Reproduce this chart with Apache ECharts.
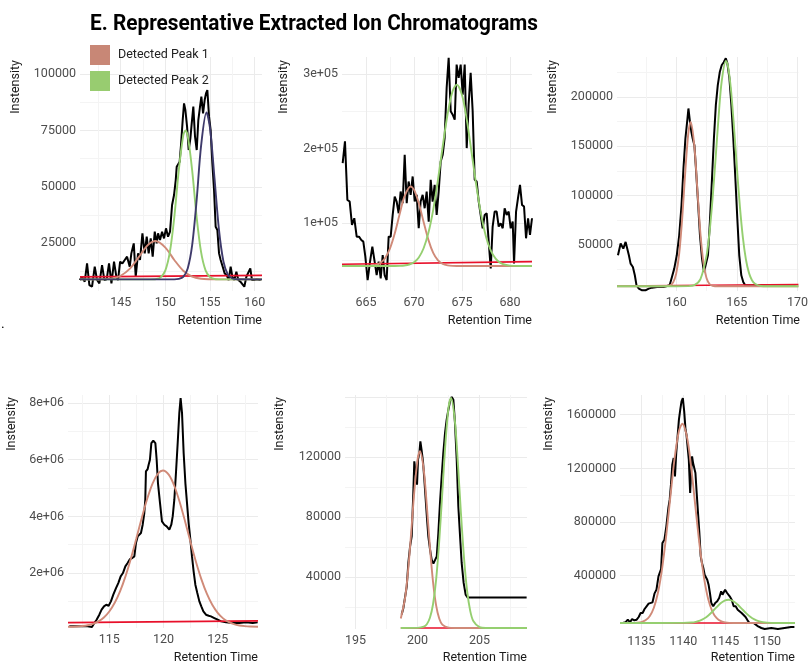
<!DOCTYPE html>
<html>
<head>
<meta charset="utf-8">
<script src="https://cdn.jsdelivr.net/npm/echarts@6/dist/echarts.min.js"></script>
<style>html,body{margin:0;padding:0;background:#fff}#c{width:811px;height:666px}</style>
</head>
<body>
<div id="c"></div>
<script>
// ---------- Panel 1 ----------
const p1RT = [140.41,140.67,140.97,141.23,141.49,141.79,142.09,142.35,142.61,142.91,143.17,143.43,143.69,143.96,144.25,144.51,144.70,144.93,145.19,145.45,145.71,146.01,146.19,146.46,146.68,146.94,147.16,147.43,147.69,147.91,148.13,148.36,148.58,148.81,149.03,149.18,149.40,149.63,149.85,150.07,150.30,150.52,150.75,150.97,151.16,151.27,151.42,151.60,151.75,151.94,152.09,152.24,152.43,152.61,152.80,152.95,153.13,153.32,153.51,153.69,153.88,154.03,154.22,154.40,154.55,154.70,154.89,155.07,155.26,155.45,155.63,155.82,156.01,156.19,156.42,156.64,156.87,157.09,157.31,157.50,157.72,157.95,158.17,158.40,158.62,158.84,159.07,159.29,159.51,159.70,159.93,160.19,160.37,160.67];
const p1Int = [8720,10200,7980,16110,6500,5760,14630,8720,7240,15370,8720,9020,16110,7240,16850,10200,8720,16850,16110,17590,19070,14630,20540,24980,10200,20540,17590,29410,20540,27930,20540,27200,19070,30150,24980,29410,26460,30150,27200,31630,27930,30150,41980,46410,53060,58970,58970,61190,68580,79660,87050,84100,76710,66360,71540,78190,85580,72270,66360,79660,85580,90010,82620,88530,91490,92970,81140,75230,60450,48630,32370,30890,20540,17590,14630,11680,10940,8720,14630,10200,8720,12420,8720,7980,8720,5760,10200,9460,13890,8720,8720,9020,9020,8720];
const p1Peak1X = [140.44,141,142,143,144,145,146,147,148,148.9,150,151,152,153,154,155,156,158,160.82];
const p1Peak1Y = [9000,9000,9010,9080,9420,10620,13640,18740,24080,26000,23110,17600,12860,10260,9310,9060,9000,9000,9000];
const p1Peak2X = [140.44,148,149,149.5,150,150.5,151,151.5,152,152.25,152.5,153,153.5,154,154.5,155,155.5,156,157,160.82];
const p1Peak2Y = [9000,9000,9190,10000,13000,21080,36650,57380,72750,75000,72750,57380,36650,21080,13000,10000,9190,9030,9000,9000];
const p1Peak3X = [140.44,151,151.5,152,152.5,153,153.5,154,154.6,155,155.5,156,156.5,157,157.5,158,160.82];
const p1Peak3Y = [9000,9000,9200,10110,13880,24240,44080,68270,83000,76040,53900,31050,16990,11110,9410,9070,9000];
const p1BaseX = [140.44,160.82];
const p1BaseY = [10100,10800];
const p1XTicks = [145,150,155,160];
const p1XGrid = [142.5,145,147.5,150,152.5,155,157.5,160];
const p1YTicks = [25000,50000,75000,100000];
const p1YLabels = ['25000','50000','75000','100000'];
const p1YGrid = [12500,25000,37500,50000,62500,75000,87500,100000];

// ---------- Panel 2 ----------
const p2RT = [662.57,662.81,663.06,663.30,663.54,663.78,664.03,664.27,664.51,664.72,664.93,665.17,665.42,665.66,665.90,666.11,666.32,666.53,666.74,666.94,667.15,667.36,667.57,667.78,667.99,668.19,668.40,668.61,668.82,669.03,669.24,669.44,669.65,669.86,670.07,670.28,670.49,670.69,670.90,671.11,671.32,671.53,671.74,671.94,672.15,672.36,672.57,672.78,672.99,673.19,673.40,673.61,673.82,674.03,674.24,674.44,674.65,674.86,675.07,675.28,675.49,675.69,675.90,676.11,676.32,676.53,676.74,676.94,677.15,677.36,677.57,677.78,677.99,678.19,678.40,678.61,678.82,679.03,679.24,679.44,679.65,679.86,680.07,680.28,680.42,680.63,680.83,681.04,681.25,681.46,681.67,681.88,682.08,682.29];
const p2Int = [180700,209850,131380,129140,97750,106720,82060,82060,77570,75330,55150,23770,48430,68610,48430,30490,48430,26010,57400,30490,23770,82060,82060,111200,135870,129140,113450,142590,126900,191920,126900,156040,138110,162770,129140,138110,93270,129140,138110,120170,142590,102240,158290,129140,151560,111200,142590,182950,191920,214340,281600,321950,250210,245720,239000,312990,295050,312990,272630,312990,200880,259180,301780,250210,158290,156040,129140,129140,93270,111200,113450,75330,39460,95510,115690,115690,95510,99990,93270,120170,111200,115690,93270,102240,46190,115690,133620,151560,124650,122410,79820,106720,84300,106720];
const p2Peak1X = [662.5,665,665.5,666,666.5,667,667.5,668,668.5,669,669.65,670,670.5,671,671.5,672,672.5,673,673.5,674,675,682.29];
const p2Peak1Y = [42600,42700,43000,44010,46830,53480,66400,86660,111960,135640,149300,145140,126900,101700,77700,60200,50200,45400,43480,42850,42600,42600];
const p2Peak2X = [662.5,668,668.5,669,669.5,670,670.5,671,671.5,672,672.5,673,673.5,674,674.45,675,675.5,676,676.5,677,677.5,678,678.5,679,679.5,680,681,682.29];
const p2Peak2Y = [42600,42670,42840,43330,44640,47690,54140,66450,87140,118050,158450,204000,246600,276500,286000,272100,238800,194900,149700,110900,82030,63290,52530,46880,44280,43200,42700,42600];
const p2BaseX = [662.5,682.29];
const p2BaseY = [45000,48500];
const p2XTicks = [665,670,675,680];
const p2XGrid = [665,667.5,670,672.5,675,677.5,680];
const p2YTicks = [100000,200000,300000];
const p2YLabels = ['1e+05','2e+05','3e+05'];
const p2YGrid = [50000,100000,150000,200000,250000,300000];

// ---------- Panel 3 ----------
const p3RT = [155.20,155.42,155.64,155.83,155.97,156.10,156.24,156.43,156.59,156.73,156.92,157.19,157.47,157.74,158.01,158.42,158.96,159.24,159.46,159.65,159.84,160.05,160.25,160.44,160.60,160.76,160.93,161.01,161.12,161.25,161.36,161.50,161.63,161.80,161.96,162.13,162.29,162.45,162.62,162.78,162.94,163.11,163.27,163.43,163.60,163.76,163.92,164.09,164.22,164.39,164.55,164.71,164.88,165.04,165.20,165.37,165.53,165.69,165.91,166.32,167.14,168.50,169.86];
const p3Int = [39150,51020,45930,52710,54410,39150,30680,27290,18810,8640,5250,3560,3560,5250,6270,6950,6950,7970,8640,17120,25590,39150,59490,90000,127300,157800,178100,188300,176400,164600,157800,151000,127300,93390,59490,35760,22200,22200,39150,73050,113700,157800,191700,212100,225700,232500,235200,239300,234200,218900,191700,157800,117100,76440,39150,18810,12030,8640,8640,8640,8640,8640,8640];
const p3Peak1X = [155.12,158.5,159,159.5,159.75,160,160.25,160.5,160.75,161,161.2,161.5,161.75,162,162.25,162.5,162.75,163,163.5,170.08];
const p3Peak1Y = [7630,7630,7660,8610,11590,20500,41030,77430,124000,163100,174600,149900,105000,61040,31180,15950,9970,8150,7650,7630];
const p3Peak2X = [155.12,160,161,161.5,162,162.5,162.75,163,163.25,163.5,163.75,164.1,164.25,164.5,164.75,165,165.25,165.5,165.75,166,166.25,166.5,167,168,170.08];
const p3Peak2Y = [7630,7630,7760,8800,14910,38530,62560,96670,137600,180400,215700,236500,232600,209500,172200,129200,89100,57070,34870,21280,13810,10170,7950,7630,7630];
const p3BaseX = [155.12,170.08];
const p3BaseY = [8000,9500];
const p3XTicks = [160,165,170];
const p3XGrid = [157.5,160,162.5,165,167.5,170];
const p3YTicks = [50000,100000,150000,200000];
const p3YLabels = ['50000','100000','150000','200000'];
const p3YGrid = [25000,50000,75000,100000,125000,150000,175000,200000,225000];

// ---------- Panel 4 ----------
const p4RT = [111.31,111.92,112.54,113.0,113.40,113.62,113.83,114.08,114.29,114.51,114.72,114.94,115.15,115.37,115.62,115.83,116.05,116.26,116.48,116.69,116.91,117.12,117.31,117.46,117.62,117.77,117.92,118.08,118.23,118.32,118.38,118.54,118.63,118.75,118.88,119.06,119.25,119.37,119.49,119.68,119.86,120.08,120.29,120.54,120.72,120.85,121.0,121.15,121.31,121.46,121.58,121.71,121.86,122.02,122.17,122.32,122.48,122.63,122.78,122.94,123.12,123.31,123.49,123.68,123.92,124.17,124.38,124.69,125.0,125.31,125.77,126.38,126.99,127.62,128.23,128.69];
const p4Int = [117650,117650,117650,117650,94120,235300,352950,529400,705900,823550,882400,847100,1000000,1235300,1470600,1647100,1882400,2000000,2235400,2353000,2494200,2529500,2588300,3058900,3294200,3353000,3411900,3706000,4117800,4588400,5588400,5670700,5823700,6000200,6588400,6670800,6588400,6000200,5176600,4470700,3823600,3706000,3647200,3529500,3706000,4000100,4588400,5529600,6588400,7647300,8176700,7647300,6235500,5176600,4470700,3764800,3176600,2588300,2058900,1588300,1294200,1000000,823550,647100,529400,494100,470600,411800,352950,294100,258800,235300,235300,258800,235300,258800];
const p4Peak1X = [111.19,112,112.5,113,113.5,114,114.5,115,115.5,116,116.5,117,117.5,118,118.5,119,119.5,119.95,120.5,121,121.5,122,122.5,123,123.5,124,124.5,125,125.5,126,126.5,127,127.5,128,128.72];
const p4Peak1Y = [104400,114000,129000,157300,208300,293500,432900,643000,949400,1361900,1892200,2523600,3230600,3954400,4624100,5168100,5514700,5618800,5463700,5072800,4497400,3810000,3084300,2391000,1778200,1271500,880700,595900,400500,273800,195300,150100,125200,112100,103900];
const p4BaseX = [111.19,128.72];
const p4BaseY = [250000,310000];
const p4XTicks = [115,120,125];
const p4XGrid = [112.5,115,117.5,120,122.5,125,127.5];
const p4YTicks = [2000000,4000000,6000000,8000000];
const p4YLabels = ['2e+06','4e+06','6e+06','8e+06'];
const p4YGrid = [1000000,2000000,3000000,4000000,5000000,6000000,7000000,8000000];

// ---------- Panel 5 ----------
const p5RT = [198.72,198.86,198.99,199.13,199.26,199.40,199.53,199.66,199.74,199.85,199.96,200.04,200.15,200.23,200.34,200.44,200.55,200.66,200.77,200.87,201.01,201.14,201.28,201.41,201.55,201.68,201.81,201.95,202.08,202.22,202.35,202.49,202.62,202.76,202.89,203.02,203.16,203.29,203.43,203.56,203.72,203.88,204.05,204.37,205.44,206.79,208.13,208.80];
const p5Int = [14890,19330,20440,33770,49330,60440,67100,96000,117100,109300,101500,118200,122700,130400,123800,117100,104900,91550,78210,67100,58220,51550,48880,49330,53770,69330,89320,107100,122700,136000,144900,151500,157100,160000,158200,142700,118200,87100,67100,49330,36000,28220,26220,26220,26220,26220,26220,26220];
const p5Peak1X = [198.65,199.0,199.25,199.5,199.75,200.0,200.2,200.5,200.75,201.0,201.25,201.5,201.75,202.0,202.5,203.0,208.83];
const p5Peak1Y = [12300,26260,45230,70790,98000,118100,123800,111500,87400,59950,36660,20990,12250,8260,6190,6000,6000];
const p5Peak2X = [198.65,200.0,200.5,200.75,201.0,201.25,201.5,201.75,202.0,202.25,202.5,202.7,203.0,203.25,203.5,203.75,204.0,204.25,204.5,205.0,205.5,208.83];
const p5Peak2Y = [6000,6060,6810,8510,12740,21790,38200,63800,96300,129100,152900,159300,145100,116500,82700,52600,30700,17390,10610,6500,6000,6000];
const p5BaseX = [198.65,208.83];
const p5BaseY = [6000,6000];
const p5XTicks = [195,200,205];
const p5XGrid = [195,197.5,200,202.5,205,207.5];
const p5YTicks = [40000,80000,120000];
const p5YLabels = ['40000','80000','120000'];
const p5YGrid = [20000,40000,60000,80000,100000,120000,140000,160000];

// ---------- Panel 6 ----------
const p6RT = [1132.80,1133.11,1133.39,1133.66,1133.90,1134.17,1134.45,1134.69,1134.92,1135.16,1135.39,1135.63,1135.87,1136.10,1136.34,1136.57,1136.81,1137.05,1137.20,1137.36,1137.52,1137.76,1137.99,1138.23,1138.39,1138.54,1138.70,1138.86,1139.02,1139.17,1139.33,1139.49,1139.65,1139.80,1139.96,1140.12,1140.28,1140.39,1140.51,1140.67,1140.83,1140.94,1141.06,1141.18,1141.30,1141.46,1141.61,1141.77,1141.93,1142.09,1142.24,1142.40,1142.56,1142.72,1142.87,1143.03,1143.19,1143.35,1143.58,1143.82,1144.06,1144.29,1144.53,1144.69,1144.84,1145.0,1145.24,1145.39,1145.55,1145.79,1146.02,1146.26,1146.50,1146.73,1146.97,1147.20,1147.44,1147.68,1147.91,1148.15,1148.39,1148.62,1148.94,1149.33,1149.72,1150.51,1151.30,1152.09,1152.87,1153.27];
const p6Int = [47700,52660,72530,52660,77500,67560,72530,92400,122200,122200,152000,171900,191800,196700,201700,266300,296100,395500,400400,450100,643900,668700,768100,904700,966800,1078600,1227600,1277300,1140700,1314500,1438700,1562900,1637400,1699500,1724300,1624900,1488300,1451100,1463500,1264800,1016400,1165400,1289600,1239900,1252300,1165400,1016400,867400,718300,544500,494800,457500,407900,407900,370600,333400,271300,196700,171900,196700,209100,233900,283600,258800,271300,296100,271300,283600,246300,221500,171900,171900,147100,134700,122200,109800,92400,67560,47700,47700,47700,42730,22850,10430,2980,10430,2980,10430,17880,17880];
const p6Peak1X = [1132.46,1134,1134.5,1135,1135.5,1136,1136.5,1137,1137.5,1138,1138.5,1139,1139.5,1139.9,1140.5,1141,1141.5,1142,1142.5,1143,1143.5,1144,1144.5,1145,1146,1153.34];
const p6Peak1Y = [47700,48300,49900,54800,67900,98200,161400,276400,460500,713000,1008000,1288000,1481000,1533000,1418000,1182000,888000,605000,379000,222000,131000,83300,61200,52300,48000,47700];
const p6Peak2X = [1132.46,1140,1141,1141.5,1142,1142.5,1143,1143.5,1144,1144.5,1145,1145.4,1146,1146.5,1147,1147.5,1148,1148.5,1149,1149.5,1150,1151,1153.34];
const p6Peak2Y = [47700,48300,51700,56600,65800,81400,104200,133600,166200,196100,216100,221500,209700,185000,153200,121200,94100,74300,61500,54200,50500,48100,47700];
const p6BaseX = [1132.46,1153.34];
const p6BaseY = [47700,47700];
const p6XTicks = [1135,1140,1145,1150];
const p6XGrid = [1135,1137.5,1140,1142.5,1145,1147.5,1150,1152.5];
const p6YTicks = [400000,800000,1200000,1600000];
const p6YLabels = ['400000','800000','1200000','1600000'];
const p6YGrid = [200000,400000,600000,800000,1000000,1200000,1400000,1600000];

const titleText = 'E. Representative Extracted Ion Chromatograms';
const peakNames = ['Detected Peak 1','Detected Peak 2'];
const xTitle = 'Retention Time';
const yTitle = 'Instensity';

// ---------- layout / styling ----------
const FONT = 'Roboto, "Liberation Sans", sans-serif';
const COL = {raw:'#000000', p1:'#D08A78', p2:'#95CF70', p3:'#3E3A6B', base:'#E8102A', major:'#EBEBEB', minor:'#F4F4F4', tick:'#4D4D4D'};

const panels = [
  {grid:{left:80,top:57,width:182,height:234}, xr:[140.44,160.82], yr:[3860,107600],
   raw:[p1RT,p1Int], peaks:[[p1Peak1X,p1Peak1Y],[p1Peak2X,p1Peak2Y],[p1Peak3X,p1Peak3Y]], base:[p1BaseX,p1BaseY],
   xt:p1XTicks, xg:p1XGrid, yt:p1YTicks, yl:p1YLabels, yg:p1YGrid, xT:[262,321], yT:[16,60]},
  {grid:{left:342,top:57,width:190,height:234}, xr:[662.5,682.29], yr:[9100,323100],
   raw:[p2RT,p2Int], peaks:[[p2Peak1X,p2Peak1Y],[p2Peak2X,p2Peak2Y]], base:[p2BaseX,p2BaseY],
   xt:p2XTicks, xg:p2XGrid, yt:p2YTicks, yl:p2YLabels, yg:p2YGrid, xT:[532,321], yT:[284,60]},
  {grid:{left:617,top:57,width:183,height:234}, xr:[155.12,170.08], yr:[2850,240600],
   raw:[p3RT,p3Int], peaks:[[p3Peak1X,p3Peak1Y],[p3Peak2X,p3Peak2Y]], base:[p3BaseX,p3BaseY],
   xt:p3XTicks, xg:p3XGrid, yt:p3YTicks, yl:p3YLabels, yg:p3YGrid, xT:[800,321], yT:[553,60]},
  {grid:{left:68,top:395,width:190,height:233}, xr:[111.19,128.72], yr:[60000,8285000],
   raw:[p4RT,p4Int], peaks:[[p4Peak1X,p4Peak1Y]], base:[p4BaseX,p4BaseY],
   xt:p4XTicks, xg:p4XGrid, yt:p4YTicks, yl:p4YLabels, yg:p4YGrid, xT:[258,658], yT:[12,397]},
  {grid:{left:345,top:395,width:182,height:234}, xr:[194.15,208.83], yr:[5300,161300],
   raw:[p5RT,p5Int], peaks:[[p5Peak1X,p5Peak1Y],[p5Peak2X,p5Peak2Y]], base:[p5BaseX,p5BaseY],
   xt:p5XTicks, xg:p5XGrid, yt:p5YTicks, yl:p5YLabels, yg:p5YGrid, xT:[527,658], yT:[280,397]},
  {grid:{left:620,top:395,width:175,height:235}, xr:[1132.46,1153.34], yr:[-4500,1747000],
   raw:[p6RT,p6Int], peaks:[[p6Peak1X,p6Peak1Y],[p6Peak2X,p6Peak2Y]], base:[p6BaseX,p6BaseY],
   xt:p6XTicks, xg:p6XGrid, yt:p6YTicks, yl:p6YLabels, yg:p6YGrid, xT:[795,658], yT:[549,397]}
];

function zip(xs, ys){ return xs.map((x,i)=>[x, ys[i]]); }
// alternate major/minor gridline colours depending on whether the first line is a labelled (major) one
function gridColors(gridVals, labelVals){
  return labelVals.indexOf(gridVals[0]) >= 0 ? [COL.major, COL.minor] : [COL.minor, COL.major];
}

const grids=[], xAxes=[], yAxes=[], series=[], graphics=[];
const peakColors=[COL.p1, COL.p2, COL.p3];
const peakSeriesNames=[peakNames[0], peakNames[1], 'Detected Peak 3'];

panels.forEach((p,i)=>{
  grids.push(Object.assign({containLabel:false}, p.grid));
  xAxes.push({type:'value', gridIndex:i, min:p.xr[0], max:p.xr[1],
    axisLine:{show:false}, axisTick:{show:false, customValues:p.xg},
    axisLabel:{customValues:p.xt, color:COL.tick, fontSize:12.5, fontFamily:FONT, margin:5, formatter:v=>String(v)},
    splitLine:{show:true, lineStyle:{color:gridColors(p.xg,p.xt), width:1}}});
  yAxes.push({type:'value', gridIndex:i, min:p.yr[0], max:p.yr[1],
    axisLine:{show:false}, axisTick:{show:false, customValues:p.yg},
    axisLabel:{customValues:p.yt, color:COL.tick, fontSize:12.5, fontFamily:FONT, margin:4,
      formatter:v=>{const k=p.yt.indexOf(v); return k>=0?p.yl[k]:String(v);}},
    splitLine:{show:true, lineStyle:{color:gridColors(p.yg,p.yt), width:1}}});
  series.push({type:'line', name:'Raw EIC', xAxisIndex:i, yAxisIndex:i, data:zip(p.raw[0],p.raw[1]),
    showSymbol:false, symbol:'none', z:2, lineStyle:{color:COL.raw, width:2}, itemStyle:{color:COL.raw}});
  series.push({type:'line', name:'Baseline', xAxisIndex:i, yAxisIndex:i, data:zip(p.base[0],p.base[1]),
    showSymbol:false, symbol:'none', z:3, lineStyle:{color:COL.base, width:1.6}, itemStyle:{color:COL.base}});
  p.peaks.forEach((pk,j)=>{
    series.push({type:'line', name:peakSeriesNames[j], xAxisIndex:i, yAxisIndex:i, data:zip(pk[0],pk[1]),
      showSymbol:false, symbol:'none', smooth:0.3, z:4+j,
      lineStyle:{color:peakColors[j], width:1.9}, itemStyle:{color:peakColors[j]}});
  });
  graphics.push({type:'text', x:p.xT[0], y:p.xT[1], style:{text:xTitle, align:'right', verticalAlign:'middle', fontSize:12.5, fontFamily:FONT, fill:'#1a1a1a'}});
  graphics.push({type:'text', x:p.yT[0], y:p.yT[1], rotation:Math.PI/2, style:{text:yTitle, align:'right', verticalAlign:'middle', fontSize:12.5, fontFamily:FONT, fill:'#1a1a1a'}});
});
graphics.push({type:'text', x:1, y:331, style:{text:'.', align:'left', verticalAlign:'bottom', fontSize:14, fontFamily:FONT, fill:'#000'}});

// title: bold condensed look, obtained by horizontally compressing Roboto Bold to the target width
const TITLE_FONT = 'bold 22px Roboto';
const mctx = document.createElement('canvas').getContext('2d');
mctx.font = TITLE_FONT;
const titleW = mctx.measureText(titleText).width || 448;
graphics.push({type:'text', x:90, y:24, scaleX:448/titleW, style:{text:titleText, font:TITLE_FONT, align:'left', verticalAlign:'middle', fill:'#000'}});

const chart = echarts.init(document.getElementById('c'), null, {renderer:'canvas'});
chart.setOption({
  animation:false,
  backgroundColor:'#ffffff',
  legend:{left:90, top:45, padding:0, orient:'vertical', icon:'rect', itemWidth:20, itemHeight:20, itemGap:6, selectedMode:false,
    textStyle:{fontFamily:FONT, fontSize:12.5, color:'#222', padding:[0,0,0,3]},
    data:[{name:peakNames[0], itemStyle:{color:'#C88776'}},{name:peakNames[1], itemStyle:{color:'#98CC70'}}]},
  grid:grids, xAxis:xAxes, yAxis:yAxes, series:series, graphic:graphics
});
</script>
</body>
</html>
